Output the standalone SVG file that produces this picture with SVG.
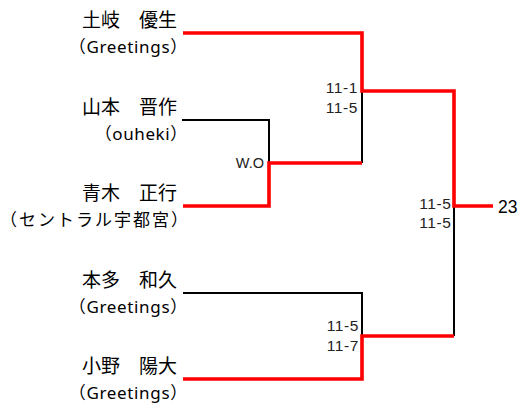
<svg xmlns="http://www.w3.org/2000/svg" width="527" height="408" viewBox="0 0 527 408">
<style>
.name{font-family:"Noto Sans CJK JP","Noto Sans",sans-serif;font-size:19px;fill:#000;text-anchor:end}
.org{font-family:"Noto Sans","Noto Sans CJK JP",sans-serif;font-size:17px;fill:#000;text-anchor:start;text-spacing-trim:space-all}
.score{font-family:"Liberation Sans","Noto Sans CJK JP",sans-serif;font-size:15.5px;letter-spacing:0.6px;fill:#222;text-anchor:end}
.wo{font-family:"Liberation Sans",sans-serif;font-size:14.5px;fill:#222;text-anchor:end}
.win{fill:none;stroke:#FF0000;stroke-width:3.6;stroke-linejoin:miter}
.lose{fill:none;stroke:#000;stroke-width:2}
</style>
<rect width="527" height="408" fill="#fff"/>
<g id="connectors">
<path class="lose" d="M182,120 H269 V163"/>
<path class="lose" d="M362,91 V163"/>
<path class="lose" d="M183,293 H362 V336"/>
<path class="lose" d="M454,206 V336"/>
<path class="win" d="M183,33 H362 V91 H454 V206 H493"/>
<path class="win" d="M183,206 H269 V163 H362"/>
<path class="win" d="M183,379 H362 V336 H454"/>
</g>
<g id="player1"><text class="name" x="177" y="27">土岐　優生</text><text class="org" x="68.8" y="53" textLength="118.4" lengthAdjust="spacing">（Greetings）</text></g>
<g id="player2"><text class="name" x="177" y="113.5">山本　晋作</text><text class="org" x="94.8" y="139.5" textLength="92.4" lengthAdjust="spacing">（ouheki）</text></g>
<g id="player3"><text class="name" x="177" y="200">青木　正行</text><text class="org" x="0" y="226" textLength="188" lengthAdjust="spacing">（セントラル宇都宮）</text></g>
<g id="player4"><text class="name" x="177" y="286.5">本多　和久</text><text class="org" x="68.8" y="312.5" textLength="118.4" lengthAdjust="spacing">（Greetings）</text></g>
<g id="player5"><text class="name" x="177" y="373">小野　陽大</text><text class="org" x="68.8" y="399" textLength="118.4" lengthAdjust="spacing">（Greetings）</text></g>
<g id="match1"><text class="wo" x="264" y="168">W.O</text></g>
<g id="match2"><text class="score" x="358" y="93">11-1</text><text class="score" x="358" y="112.5">11-5</text></g>
<g id="match3"><text class="score" x="359" y="330.5">11-5</text><text class="score" x="359" y="350.5">11-7</text></g>
<g id="final"><text class="score" x="451.5" y="208.5">11-5</text><text class="score" x="451.5" y="227.5">11-5</text></g>
<g id="winner"><text x="498" y="212.5" font-family="Liberation Sans, sans-serif" font-size="17.5" fill="#000">23</text></g>
</svg>
